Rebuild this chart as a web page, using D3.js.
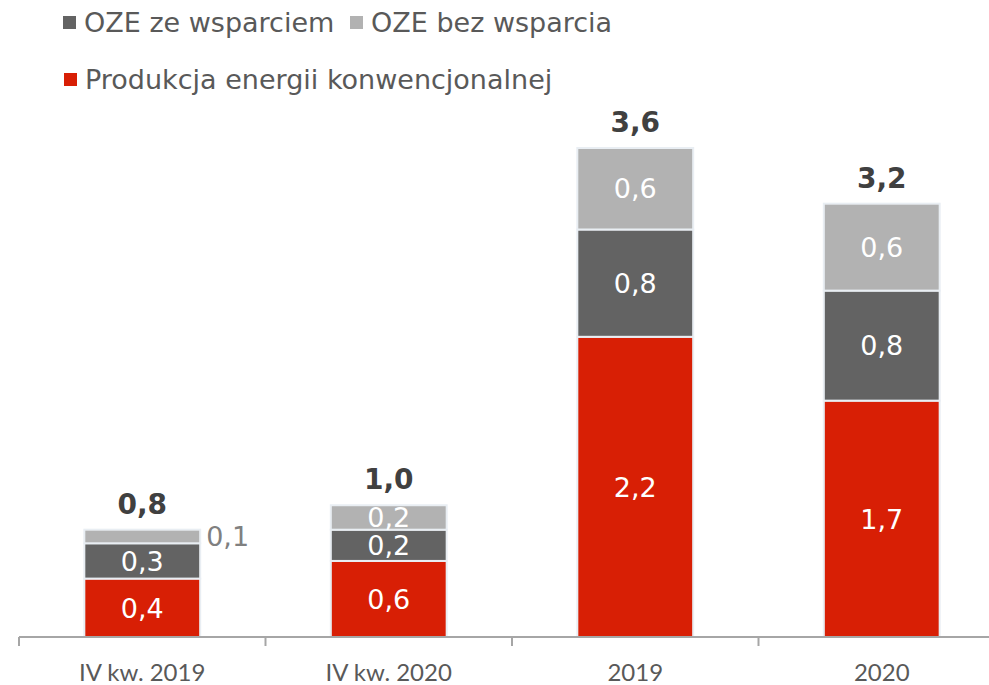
<!DOCTYPE html>
<html>
<head>
<meta charset="utf-8">
<script src="https://cdn.jsdelivr.net/npm/d3@7"></script>
<style>
  body { margin: 0; background: #fff; }
  svg { display: block; }
</style>
</head>
<body>
<script>
'use strict';

//chart data
var categories = ['IV kw. 2019', 'IV kw. 2020', '2019', '2020'];
var conventional = [0.43, 0.56, 2.21, 1.74];
var withSupport = [0.26, 0.23, 0.79, 0.81];
var withoutSupport = [0.10, 0.18, 0.60, 0.64];

var seriesNames = ['Produkcja energii konwencjonalnej', 'OZE ze wsparciem', 'OZE bez wsparcia'];
var colors = ['#d81f05', '#636363', '#b2b2b2'];

//general setup
var width = 989, height = 685;
var baseY = 637;

var svg = d3.select('body').append('svg').attr('width', width).attr('height', height);

var table = categories.map(function (c, i) {
  return { cat: c, s0: conventional[i], s1: withSupport[i], s2: withoutSupport[i] };
});
var stacked = d3.stack().keys(['s0', 's1', 's2'])(table);

//scales
var xScale = d3.scaleBand().domain(categories).range([19, 1005]).paddingInner(0.53).paddingOuter(0.265);
var yScale = d3.scaleLinear().domain([0, 3.6]).range([baseY, 148]);

function fmt(v) {
  return v.toFixed(1).replace('.', ',');
}

//bars
var layer = svg.selectAll('.layer').data(stacked).enter().append('g').attr('class', 'layer').style('fill', function (d, i) {
  return colors[i];
});

layer.selectAll('rect').data(function (d) { return d; }).enter().append('rect').attr('x', function (d) {
  return xScale(d.data.cat);
}).attr('y', function (d) {
  return yScale(d[1]);
}).attr('width', xScale.bandwidth()).attr('height', function (d) {
  return yScale(d[0]) - yScale(d[1]);
}).style('stroke', '#e9eef3').style('stroke-width', 2);

//segment labels (tiny segments get their label beside the bar)
stacked.forEach(function (s) {
  svg.selectAll('.lbl' + s.key).data(s).enter().append('text').attr('x', function (d) {
    var h = yScale(d[0]) - yScale(d[1]);
    if (h < 20) return xScale(d.data.cat) + xScale.bandwidth() + 6;
    return xScale(d.data.cat) + xScale.bandwidth() / 2;
  }).attr('y', function (d) {
    return (yScale(d[0]) + yScale(d[1])) / 2;
  }).attr('dy', '0.36em').attr('text-anchor', function (d) {
    return yScale(d[0]) - yScale(d[1]) < 20 ? 'start' : 'middle';
  }).style('fill', function (d) {
    return yScale(d[0]) - yScale(d[1]) < 20 ? '#808080' : '#fff';
  }).style('font-family', 'DejaVu Sans, Verdana, sans-serif').style('font-size', '27px').text(function (d) {
    return fmt(d.data[s.key]);
  });
});

//totals
svg.selectAll('.total').data(table).enter().append('text').attr('class', 'total').attr('x', function (d) {
  return xScale(d.cat) + xScale.bandwidth() / 2;
}).attr('y', function (d) {
  return yScale(d.s0 + d.s1 + d.s2) - 16;
}).attr('text-anchor', 'middle').style('fill', '#404040').style('font-family', 'DejaVu Sans, Verdana, sans-serif').style('font-weight', 'bold').style('font-size', '28px').text(function (d) {
  return fmt(d.s0 + d.s1 + d.s2);
});

//x-axis
var axis = svg.append('g').attr('transform', 'translate(0,' + baseY + ')');
axis.append('line').attr('x1', 19).attr('x2', width).attr('y1', 0).attr('y2', 0).style('stroke', '#a6a6a6').style('stroke-width', 2);
categories.forEach(function (c) {
  var tx = xScale(c) - xScale.step() * xScale.paddingInner() / 2;
  axis.append('line').attr('x1', tx).attr('x2', tx).attr('y1', 0).attr('y2', 9).style('stroke', '#a6a6a6').style('stroke-width', 2);
});
axis.selectAll('.tick-label').data(categories).enter().append('text').attr('x', function (d) {
  return xScale(d) + xScale.bandwidth() / 2;
}).attr('y', 44).attr('text-anchor', 'middle').style('fill', '#595959').style('font-family', 'Lato, sans-serif').style('font-size', '24px').text(function (d) {
  return d;
});

//legend
var legendData = [
  { idx: 1, x: 63, y: 32 },
  { idx: 2, x: 350, y: 32 },
  { idx: 0, x: 64, y: 89 }
];
var legend = svg.append('g');
legend.selectAll('rect').data(legendData).enter().append('rect').attr('x', function (d) {
  return d.x;
}).attr('y', function (d) {
  return d.y - 16;
}).attr('width', 13).attr('height', 13).style('fill', function (d) {
  return colors[d.idx];
});
legend.selectAll('text').data(legendData).enter().append('text').attr('x', function (d) {
  return d.x + 21;
}).attr('y', function (d) {
  return d.y;
}).style('fill', '#595959').style('font-family', 'DejaVu Sans, Verdana, sans-serif').style('font-size', '27px').text(function (d) {
  return seriesNames[d.idx];
});
</script>
</body>
</html>
